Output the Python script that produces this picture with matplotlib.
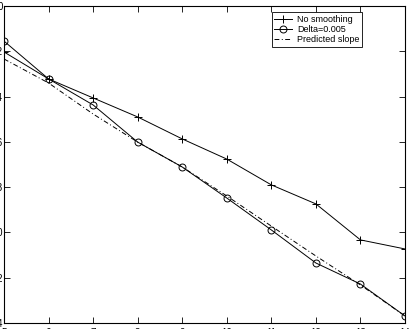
import matplotlib
matplotlib.use("Agg")
import matplotlib.pyplot as plt

plt.rcParams['font.family'] = ['Liberation Sans', 'DejaVu Sans']
plt.rcParams['font.size'] = 7

# values
steps = [5, 6, 7, 8, 9, 10, 11, 12, 13, 14]
no_smoothing = [-2.03, -3.22, -4.06, -4.90, -5.87, -6.76, -7.90, -8.74, -10.33, -10.73]
delta_005 = [-1.55, -3.22, -4.37, -6.01, -7.11, -8.48, -9.89, -11.35, -12.28, -13.69]
predicted = [-2.34, -3.40, -4.77, -6.01, -7.11, -8.39, -9.72, -11.04, -12.32, -13.69]
y_ticks = [-14, -12, -10, -8, -6, -4, -2, 0]

fig = plt.figure(figsize=(4.09, 3.29), dpi=100)
ax = fig.add_axes([4 / 409, 6 / 329, 401 / 409, 317 / 329])

ax.plot(steps, no_smoothing, color='black', lw=0.7, marker='+', ms=6,
        mew=0.7, label='No smoothing')
ax.plot(steps, delta_005, color='black', lw=0.7, marker='o', ms=5,
        mew=0.7, mfc='none', label='Delta=0.005')
ax.plot(steps, predicted, color='black', lw=0.7, ls=(0, (5, 2.5, 1, 2.5)),
        label='Predicted slope')

ax.set_xlim(5, 14)
ax.set_ylim(-14, 0)
ax.set_xticks(steps)
ax.set_yticks(y_ticks)
ax.tick_params(direction='in', top=True, right=True, length=4, width=0.6,
               pad=3.5, labelsize=7)
ax.tick_params(axis='y', pad=1)
for s in ax.spines.values():
    s.set_linewidth(0.8)

leg = ax.legend(loc='upper right', bbox_to_anchor=(0.893, 0.981),
                borderaxespad=0, fancybox=False, framealpha=1,
                edgecolor='black', handlelength=2.0, handletextpad=0.5,
                borderpad=0.3, labelspacing=0.15, fontsize=6.5)
leg.get_frame().set_linewidth(0.6)

plt.savefig('out.png', dpi=100)
